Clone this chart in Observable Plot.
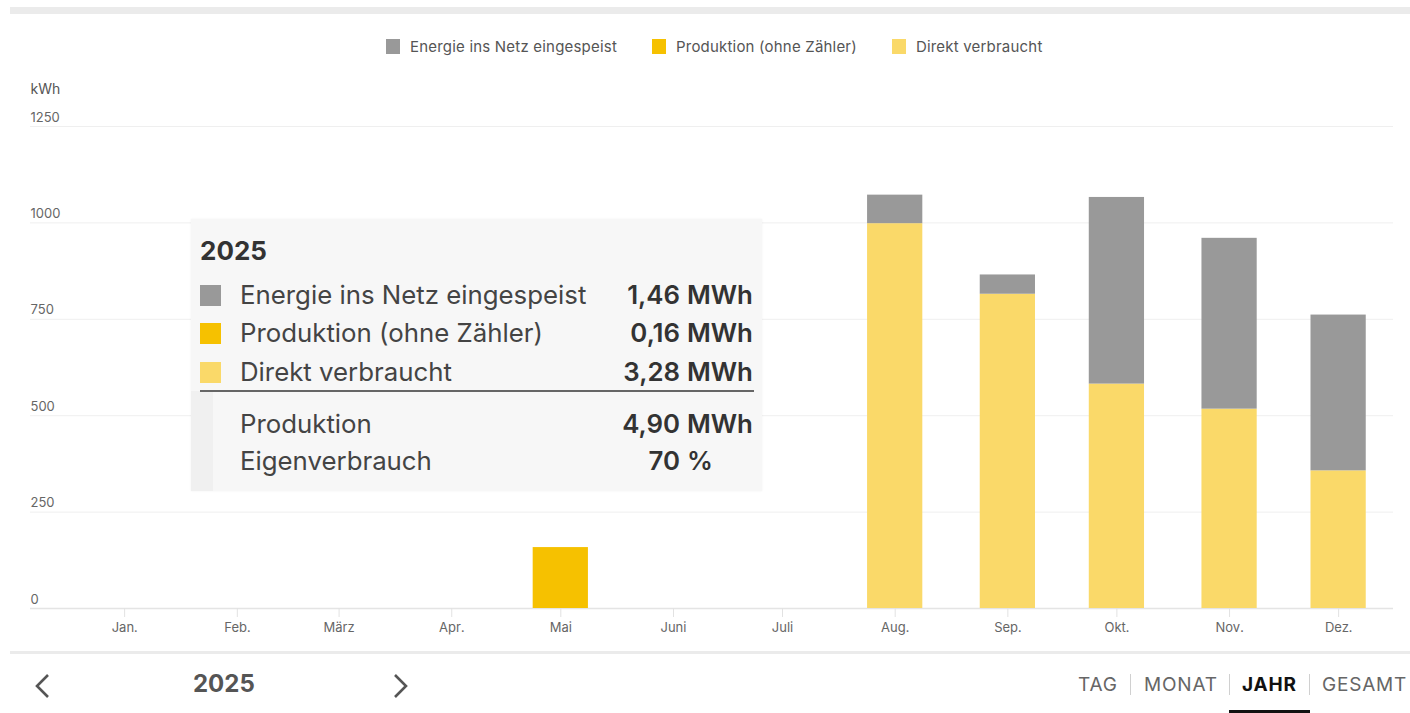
<!DOCTYPE html>
<html lang="de">
<head>
<meta charset="utf-8">
<script src="https://cdn.jsdelivr.net/npm/d3@7"></script>
<script src="https://cdn.jsdelivr.net/npm/@observablehq/plot@0.6"></script>
<style>
  html, body { margin: 0; padding: 0; background: #fff; }
  body { font-family: Inter, "Noto Sans", sans-serif; }
  #page { position: relative; width: 1410px; height: 713px; overflow: hidden; background: #fff; }
  #topband { position: absolute; left: 10px; top: 7px; width: 1400px; height: 7px; background: #ebebeb; }
  #legend { position: absolute; left: 386px; top: 37px; display: flex; align-items: center; gap: 35px; font-size: 15px; letter-spacing: 0.2px; color: #555; white-space: nowrap; }
  #legend .item { display: flex; align-items: center; gap: 10px; }
  #legend .sw { width: 14px; height: 15px; display: inline-block; }
  #chart { position: absolute; left: 0; top: 0; }
  #tooltip { position: absolute; left: 191px; top: 219px; width: 571px; height: 272px; background: #f7f7f7; box-shadow: 0 0 2px rgba(0,0,0,0.06); color: #3d3d3d; }
  #tooltip .strip { position: absolute; left: 0; top: 172px; width: 22px; bottom: 0; background: #f0f0f0; }
  #tooltip .title { position: absolute; left: 9px; top: 16px; font-size: 26px; font-weight: 700; color: #333; }
  #tooltip .row { position: absolute; left: 0; width: 571px; height: 30px; font-size: 25.8px; line-height: 30px; }
  #tooltip .row .sw { position: absolute; left: 9px; top: 5px; width: 21px; height: 21px; }
  #tooltip .row .lab { position: absolute; left: 49px; top: 0; color: #444; }
  #tooltip .row .num { position: absolute; right: 82px; top: 0; font-weight: 600; color: #333; }
  #tooltip .row .unit { position: absolute; left: 496px; top: 0; font-weight: 600; color: #333; }
  #tooltip .sep { position: absolute; left: 9px; top: 171px; width: 554px; height: 2px; background: #666; }
  #bottomline { position: absolute; left: 10px; top: 651px; width: 1400px; height: 3px; background: #ebebeb; }
  #year { position: absolute; left: 193px; top: 669px; font-size: 24px; font-weight: 700; color: #555; }
  .chev { position: absolute; top: 673px; }
  .tab { position: absolute; top: 673px; font-size: 19px; letter-spacing: 0.8px; color: #666; }
  .tab.active { color: #111; font-weight: 700; }
  .vsep { position: absolute; top: 674px; width: 1px; height: 21px; background: #d0d0d0; }
  #underline { position: absolute; left: 1229px; top: 710px; width: 81px; height: 3px; background: #111; }
</style>
</head>
<body>
<div id="page">
  <div id="topband"></div>
  <div id="chart"></div>
  <div id="legend"></div>
  <div id="tooltip"></div>
  <div id="bottomline"></div>
  <svg class="chev" style="left:33px" width="20" height="26" viewBox="0 0 20 26"><polyline points="15,2 4,13 15,24" fill="none" stroke="#555" stroke-width="2.6"/></svg>
  <div id="year">2025</div>
  <svg class="chev" style="left:390px" width="20" height="26" viewBox="0 0 20 26"><polyline points="5,2 16,13 5,24" fill="none" stroke="#555" stroke-width="2.6"/></svg>
  <div class="tab" style="left:1078px">TAG</div>
  <div class="vsep" style="left:1130px"></div>
  <div class="tab" style="left:1144px">MONAT</div>
  <div class="vsep" style="left:1229px"></div>
  <div class="tab active" style="left:1242px">JAHR</div>
  <div class="vsep" style="left:1309px"></div>
  <div class="tab" style="left:1322px">GESAMT</div>
  <div id="underline"></div>
</div>
<script>
// ---- Data (kWh per month, 2025) ----
const months = ["Jan.", "Feb.", "März", "Apr.", "Mai", "Juni", "Juli", "Aug.", "Sep.", "Okt.", "Nov.", "Dez."];
const direktVerbraucht      = [0, 0, 0, 0, 0,   0, 0, 998, 815, 582, 517, 357];
const produktionOhneZaehler = [0, 0, 0, 0, 158, 0, 0, 0,   0,   0,   0,   0];
const netzEingespeist       = [0, 0, 0, 0, 0,   0, 0, 74,  50,  484, 443, 404];
const seriesNames  = ["Energie ins Netz eingespeist", "Produktion (ohne Zähler)", "Direkt verbraucht"];
const seriesColors = ["#999999", "#f6c100", "#fad969"];
const yTicks = [0, 250, 500, 750, 1000, 1250];
const yUnit = "kWh";
// tooltip summary
const tooltipTitle = "2025";
const tooltipRows = [
  {label: "Energie ins Netz eingespeist", value: "1,46", unit: "MWh", color: "#999999"},
  {label: "Produktion (ohne Zähler)", value: "0,16", unit: "MWh", color: "#f6c100"},
  {label: "Direkt verbraucht", value: "3,28", unit: "MWh", color: "#fad969"}
];
const tooltipTotals = [
  {label: "Produktion", value: "4,90", unit: "MWh"},
  {label: "Eigenverbrauch", value: "70", unit: "%"}
];

// ---- Build table (stack order: bottom -> top) ----
const monthDates = months.map((m, i) => new Date(Date.UTC(2025, i, 1)));
const stackOrder = [
  ["Direkt verbraucht", direktVerbraucht],
  ["Produktion (ohne Zähler)", produktionOhneZaehler],
  ["Energie ins Netz eingespeist", netzEingespeist]
];
const table = [];
stackOrder.forEach(([name, vals]) => {
  vals.forEach((v, i) => { if (v > 0) table.push({date: monthDates[i], month: months[i], series: name, value: v}); });
});

const DAY = 864e5;
const halfBar = 7.6 * DAY;
const xDomain = [new Date(+monthDates[0] - 25.9 * DAY), new Date(+monthDates[11] + 15.1 * DAY)];

const chart = Plot.plot({
  width: 1410,
  height: 650,
  marginTop: 126,
  marginBottom: 42,
  marginLeft: 30,
  marginRight: 17,
  style: {fontFamily: "Inter, 'Noto Sans', sans-serif", fontSize: "13px", background: "transparent", overflow: "visible"},
  x: {type: "utc", domain: xDomain, axis: null},
  y: {domain: [0, 1250], axis: null},
  color: {domain: seriesNames, range: seriesColors},
  marks: [
    Plot.ruleY(yTicks.filter(d => d > 0), {y: d => d, stroke: "#efefef", strokeWidth: 1}),
    Plot.ruleY([0], {stroke: "#e4e4e4", strokeWidth: 1.5}),
    Plot.text(yTicks, {y: d => d, text: d => String(d), frameAnchor: "left", textAnchor: "start", dy: -9, fill: "#666", fontSize: 13}),
    Plot.text([yUnit], {text: d => d, frameAnchor: "top-left", textAnchor: "start", dy: -42, fill: "#555", fontSize: 14}),
    Plot.axisX({ticks: monthDates, tickSize: 9, tickFormat: () => "", stroke: "#e2e2e2"}),
    Plot.axisX({ticks: monthDates, tickSize: 0, tickPadding: 14, tickFormat: d => months[d.getUTCMonth()], fill: "#666", fontSize: 13}),
    Plot.rectY(table, {
      x1: d => new Date(+d.date - halfBar),
      x2: d => new Date(+d.date + halfBar),
      y: "value",
      fill: "series"
    })
  ]
});
document.getElementById("chart").appendChild(chart);

// ---- Legend ----
const legend = document.getElementById("legend");
seriesNames.forEach((n, i) => {
  const it = document.createElement("div");
  it.className = "item";
  it.innerHTML = `<span class="sw" style="background:${seriesColors[i]}"></span><span>${n}</span>`;
  legend.appendChild(it);
});

// ---- Tooltip ----
const tt = document.getElementById("tooltip");
let html = `<div class="strip"></div><div class="title">${tooltipTitle}</div>`;
const rowTops = [61, 99, 138];
tooltipRows.forEach((r, i) => {
  html += `<div class="row" style="top:${rowTops[i]}px"><span class="sw" style="background:${r.color}"></span><span class="lab">${r.label}</span><span class="num">${r.value}</span><span class="unit">${r.unit}</span></div>`;
});
html += `<div class="sep"></div>`;
const totTops = [190, 227];
tooltipTotals.forEach((r, i) => {
  html += `<div class="row" style="top:${totTops[i]}px"><span class="lab">${r.label}</span><span class="num">${r.value}</span><span class="unit">${r.unit}</span></div>`;
});
tt.innerHTML = html;
</script>
</body>
</html>
